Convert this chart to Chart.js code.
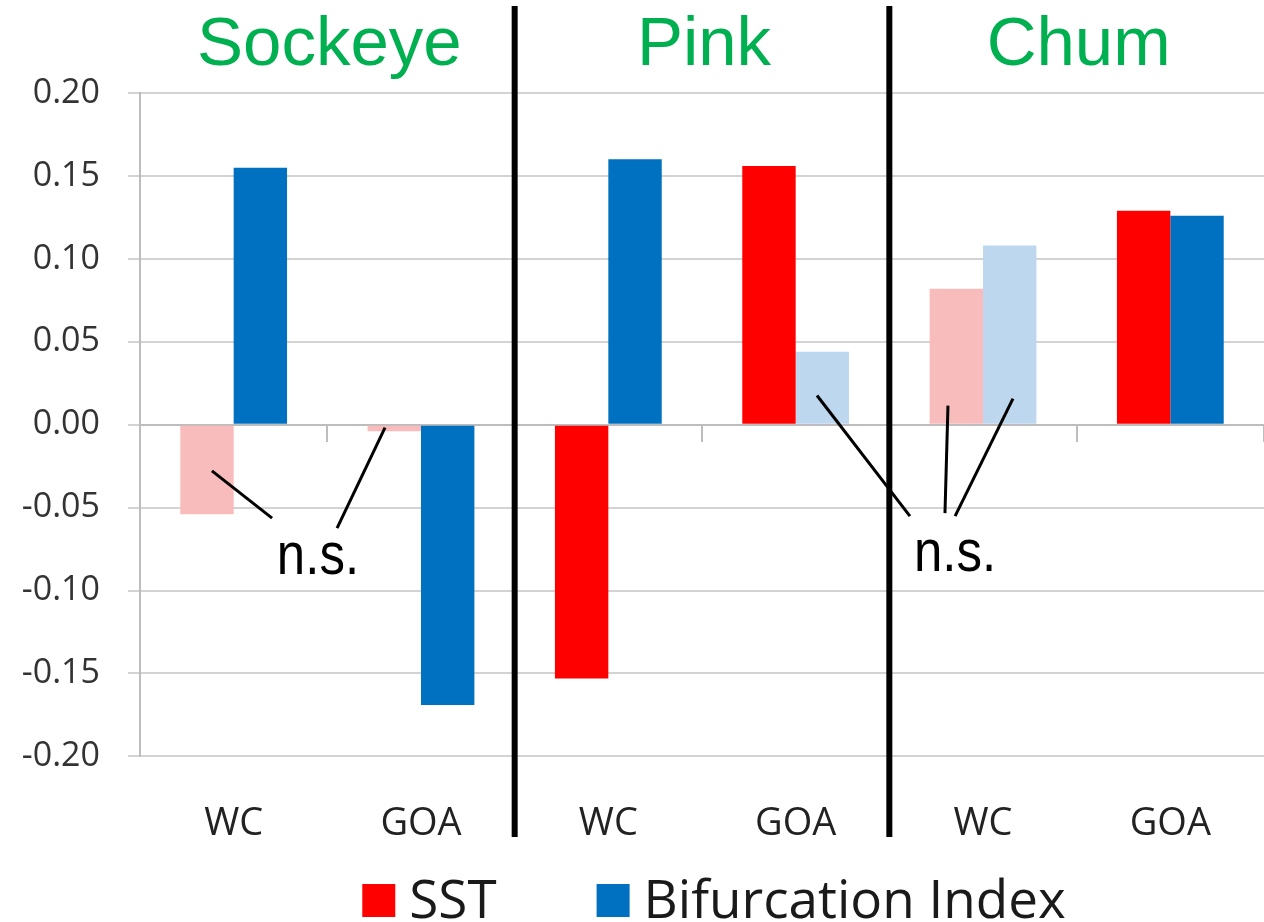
<!DOCTYPE html>
<html>
<head>
<meta charset="utf-8">
<script src="https://cdn.jsdelivr.net/npm/chart.js@4.4.0/dist/chart.umd.min.js"></script>
<style>
  html, body { margin: 0; padding: 0; background: #fff; }
  #wrap { width: 1264px; height: 922px; }
</style>
</head>
<body>
<div id="wrap"><canvas id="grafico" width="1264" height="922"></canvas></div>
<script>
// ---- datos ----
const categorias = ["WC", "GOA", "WC", "GOA", "WC", "GOA"];
const especies = ["Sockeye", "Pink", "Chum"];
const sst = [-0.054, -0.004, -0.153, 0.156, 0.082, 0.129];
const bifurcacion = [0.155, -0.169, 0.160, 0.044, 0.108, 0.126];
// false = no significativo (n.s.), barra en color claro
const sstSignif = [false, false, true, true, false, true];
const bifSignif = [true, true, true, false, false, true];
const yTicks = [-0.20, -0.15, -0.10, -0.05, 0.00, 0.05, 0.10, 0.15, 0.20];

const ROJO = "#ff0000", ROJO_CLARO = "#f9bcbc";
const AZUL = "#0070c0", AZUL_CLARO = "#bdd7ee";
const VERDE = "#00b050";

// anotaciones n.s. (x en indice de categoria, y en valor)
const nsTextos = [
  { x: 0.45, y: -0.0902 },
  { x: 3.851, y: -0.0884 }
];
const nsLineas = [
  [-0.116, -0.0278, 0.205, -0.0563],
  [0.808, -0.0018, 0.552, -0.0623],
  [3.114, 0.0176, 3.610, -0.0551],
  [3.813, 0.0115, 3.797, -0.0533],
  [4.160, 0.0157, 3.851, -0.0551]
];

// plugin para separadores, titulos, n.s. y leyenda
const decoraciones = {
  id: "decoraciones",
  afterDraw(chart) {
    const ctx = chart.ctx;
    const x = chart.scales.x;
    const y = chart.scales.y;
    ctx.save();

    // lineas negras entre especies
    ctx.strokeStyle = "#000";
    ctx.lineWidth = 6;
    [1.5, 3.5].forEach(v => {
      const px = x.getPixelForValue(v);
      ctx.beginPath();
      ctx.moveTo(px, 6);
      ctx.lineTo(px, 837);
      ctx.stroke();
    });

    // titulos de especies
    ctx.fillStyle = VERDE;
    ctx.font = "69px 'Liberation Sans', Arial, sans-serif";
    ctx.textAlign = "center";
    ctx.textBaseline = "alphabetic";
    especies.forEach((e, i) => {
      ctx.fillText(e, x.getPixelForValue(i * 2 + 0.5) + 2, 65);
    });

    // lineas n.s.
    ctx.strokeStyle = "#000";
    ctx.lineWidth = 3;
    nsLineas.forEach(l => {
      ctx.beginPath();
      ctx.moveTo(x.getPixelForValue(l[0]), y.getPixelForValue(l[1]));
      ctx.lineTo(x.getPixelForValue(l[2]), y.getPixelForValue(l[3]));
      ctx.stroke();
    });
    ctx.fillStyle = "#000";
    nsTextos.forEach(t => {
      ctx.save();
      ctx.translate(x.getPixelForValue(t.x), y.getPixelForValue(t.y));
      ctx.scale(0.85, 1);
      ctx.font = "60px 'Liberation Sans', Arial, sans-serif";
      ctx.textAlign = "center";
      ctx.fillText("n.s.", 0, 0);
      ctx.restore();
    });

    // leyenda
    const items = chart.data.datasets.map(d => ({ texto: d.label, color: d.colorLeyenda }));
    ctx.font = "53px 'Open Sans', sans-serif";
    ctx.textAlign = "left";
    ctx.textBaseline = "alphabetic";
    const caja = 33, hueco = 14, separacion = 100;
    let total = 0;
    items.forEach((it, i) => {
      it.ancho = ctx.measureText(it.texto).width;
      total += caja + hueco + it.ancho + (i > 0 ? separacion : 0);
    });
    let cx = (chart.chartArea.left + chart.chartArea.right) / 2 + 12 - total / 2;
    const top = chart.height - 38;
    items.forEach(it => {
      ctx.fillStyle = it.color;
      ctx.fillRect(cx, top, caja, caja);
      ctx.fillStyle = "#1a1a1a";
      ctx.fillText(it.texto, cx + caja + hueco, top + caja + 1);
      cx += caja + hueco + it.ancho + separacion;
    });

    ctx.restore();
  }
};

const ctx = document.getElementById("grafico").getContext("2d");
new Chart(ctx, {
  type: "bar",
  data: {
    labels: categorias,
    datasets: [
      {
        label: "SST",
        data: sst,
        colorLeyenda: ROJO,
        backgroundColor: sstSignif.map(s => s ? ROJO : ROJO_CLARO)
      },
      {
        label: "Bifurcation Index",
        data: bifurcacion,
        colorLeyenda: AZUL,
        backgroundColor: bifSignif.map(s => s ? AZUL : AZUL_CLARO)
      }
    ]
  },
  options: {
    responsive: false,
    animation: false,
    events: [],
    datasets: { bar: { categoryPercentage: 0.57, barPercentage: 1.0 } },
    layout: { padding: { top: 93, right: 0, bottom: 30, left: 0 } },
    plugins: {
      legend: { display: false },
      tooltip: { enabled: false }
    },
    scales: {
      x: {
        offset: true,
        grid: { display: false, drawTicks: false },
        border: { display: false },
        ticks: {
          padding: 45,
          color: "#222",
          font: { family: "'Open Sans', sans-serif", size: 38 }
        }
      },
      x2: {
        type: "category",
        position: { y: 0 },
        offset: true,
        grid: { offset: true, drawOnChartArea: false, tickLength: 16, color: "#bdbdbd", lineWidth: 2 },
        border: { display: true, color: "#bdbdbd", width: 2 },
        ticks: { display: false }
      },
      y: {
        min: -0.2,
        max: 0.2,
        afterFit(scale) { scale.width = 140; },
        afterBuildTicks(scale) { scale.ticks = yTicks.map(v => ({ value: v })); },
        grid: { color: "#d3d3d3", lineWidth: 2, tickLength: 12 },
        border: { display: true, color: "#bdbdbd", width: 2 },
        ticks: {
          padding: 28,
          color: "#333",
          font: { family: "'Open Sans', sans-serif", size: 34 },
          callback: v => (Math.abs(v) < 1e-9 ? 0 : v).toFixed(2)
        }
      }
    }
  },
  plugins: [decoraciones]
});
</script>
</body>
</html>
